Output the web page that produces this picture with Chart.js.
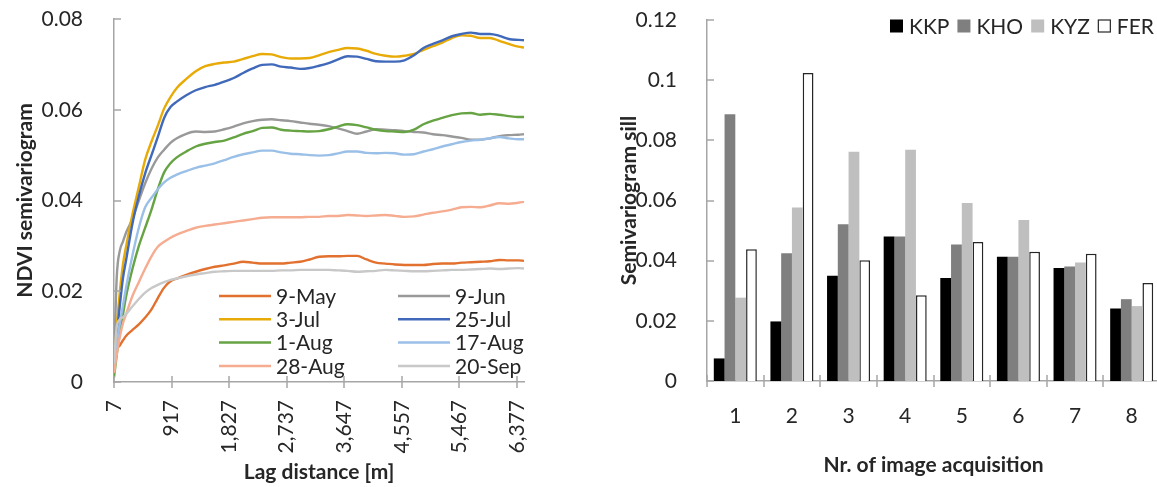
<!DOCTYPE html>
<html>
<head>
<meta charset="utf-8">
<script src="https://cdn.jsdelivr.net/npm/chart.js@4.4.1/dist/chart.umd.min.js"></script>
<style>
  html, body { margin: 0; padding: 0; background: #fff; overflow: hidden; }
  #left { position: absolute; left: 0; top: 0; width: 580px; height: 487px; }
  #right { position: absolute; left: 580px; top: 0; width: 582px; height: 487px; }
</style>
</head>
<body>
<div id="left"><canvas id="lagChart"></canvas></div>
<div id="right"><canvas id="sillChart"></canvas></div>
<script>
// ---- left: semivariograms ----
var lagDistance = [7, 50, 100, 150, 200, 300, 400, 500, 600, 700, 800, 900, 1000, 1150, 1300, 1450, 1600, 1750, 1900, 2050,
  2200, 2350, 2500, 2650, 2800, 2950, 3100, 3250, 3400, 3550, 3700, 3850, 4000, 4150, 4300, 4450, 4600, 4750, 4900, 5050,
  5200, 5350, 5500, 5650, 5800, 5950, 6100, 6250, 6400, 6490];
var lagTicks = [7, 917, 1827, 2737, 3647, 4557, 5467, 6377];

var may9 = [.004, .007, .0081, .0092, .0102, .0115, .0127, .0142, .0160, .0185, .0208, .0222, .0228, .0236, .0243, .0249, .0254, .0257, .0261, .0265,
  .0263, .0261, .0261, .0261, .0263, .0265, .0270, .0276, .0277, .0277, .0278, .0278, .0270, .0263, .0261, .0259, .0258, .0258, .0258, .0260,
  .0261, .0261, .0263, .0264, .0265, .0266, .0269, .0268, .0268, .0267];
var jun9 = [.004, .023, .029, .031, .033, .036, .040, .0438, .0470, .0495, .0512, .0527, .0537, .0547, .0552, .0551, .0552, .0557, .0563, .0570,
  .0575, .0578, .0579, .0577, .0575, .0572, .0569, .0567, .0564, .0559, .0553, .0547, .0552, .0557, .0556, .0555, .0553, .0551, .0550, .0546,
  .0544, .0541, .0538, .0534, .0534, .0537, .0542, .0544, .0545, .0546];
var jul3 = [.003, .012, .020, .026, .030, .037, .043, .049, .053, .0565, .0603, .0628, .0648, .0668, .0685, .0696, .0701, .0704, .0706, .0712,
  .0718, .0723, .0722, .0716, .0713, .0713, .0714, .0720, .0727, .0732, .0736, .0735, .0730, .0723, .0719, .0717, .0719, .0723, .0732, .0740,
  .0748, .0758, .0764, .0763, .0758, .0758, .0752, .0745, .0739, .0737];
var jul25 = [.003, .010, .017, .023, .027, .035, .041, .046, .050, .054, .0582, .0606, .0618, .0632, .0643, .0650, .0655, .0662, .0670, .0681,
  .0691, .0699, .0700, .0695, .0693, .0690, .0692, .0697, .0703, .0711, .0718, .0717, .0712, .0707, .0706, .0706, .0709, .0720, .0736, .0745,
  .0753, .0762, .0767, .0770, .0767, .0767, .0763, .0756, .0754, .0753];
var aug1 = [.001, .006, .011, .015, .019, .025, .030, .034, .038, .0425, .0462, .0482, .0495, .0508, .0519, .0525, .0529, .0532, .0539, .0547,
  .0553, .0560, .0561, .0556, .0554, .0553, .0552, .0553, .0557, .0563, .0568, .0566, .0561, .0556, .0553, .0552, .0551, .0556, .0568, .0576,
  .0582, .0588, .0592, .0593, .0589, .0591, .0589, .0586, .0584, .0584];
var aug17 = [.002, .008, .013, .017, .021, .028, .034, .0385, .0406, .0425, .0440, .0450, .0457, .0465, .0472, .0477, .0482, .0489, .0496, .0502,
  .0506, .0510, .0510, .0506, .0503, .0502, .0500, .0499, .0500, .0504, .0508, .0508, .0505, .0504, .0505, .0504, .0501, .0502, .0508, .0513,
  .0519, .0524, .0529, .0532, .0534, .0537, .0540, .0537, .0535, .0535];
var aug28 = [.002, .006, .010, .013, .015, .019, .022, .025, .0277, .0298, .0309, .0318, .0325, .0333, .0340, .0344, .0347, .0350, .0353, .0356,
  .0359, .0362, .0363, .0363, .0363, .0363, .0364, .0364, .0366, .0366, .0368, .0367, .0366, .0367, .0368, .0366, .0364, .0365, .0369, .0373,
  .0376, .0380, .0385, .0386, .0385, .0389, .0394, .0393, .0395, .0397];
var sep20 = [.004, .0121, .0138, .0143, .0150, .0167, .0183, .0197, .0207, .0214, .0220, .0225, .0228, .0233, .0237, .0240, .0243, .0244, .0245, .0245,
  .0245, .0245, .0245, .0246, .0246, .0247, .0247, .0247, .0247, .0246, .0245, .0243, .0244, .0245, .0247, .0246, .0245, .0244, .0244, .0245,
  .0246, .0247, .0247, .0248, .0249, .0250, .0249, .0250, .0251, .0250];

var dateLabels = ['9-May', '9-Jun', '3-Jul', '25-Jul', '1-Aug', '17-Aug', '28-Aug', '20-Sep'];
var dateSeries = [may9, jun9, jul3, jul25, aug1, aug17, aug28, sep20];
var lineColors = ['#E2702E', '#999999', '#E8AA06', '#4169B9', '#66A343', '#9BC0E8', '#F5AC90', '#C8C8C8'];

// ---- right: sills ----
var acquisitions = ['1', '2', '3', '4', '5', '6', '7', '8'];
var kkp = [0.0075, 0.0198, 0.0350, 0.0480, 0.0342, 0.0413, 0.0376, 0.0241];
var kho = [0.0887, 0.0425, 0.0521, 0.0480, 0.0454, 0.0413, 0.0381, 0.0272];
var kyz = [0.0277, 0.0577, 0.0762, 0.0769, 0.0592, 0.0535, 0.0394, 0.0249];
var fer = [0.0438, 0.1024, 0.0401, 0.0285, 0.0462, 0.0430, 0.0423, 0.0326];
var regions = ['KKP', 'KHO', 'KYZ', 'FER'];
var barColors = ['#000000', '#7f7f7f', '#bfbfbf', '#ffffff'];

var FONT = 'Lato, "Open Sans", sans-serif';
var TXT = '#262626';
var AXIS = '#a6a6a6';
Chart.defaults.font.family = FONT;
Chart.defaults.font.size = 21;
Chart.defaults.color = TXT;

function fmt(v) { return String(+(+v).toFixed(2)); }

// fixed y-axis box: the label padding must not push the plot area down
function fixYBox(w) {
  return function(scale) {
    scale.width = w;
    scale.paddingTop = 0;
    scale.paddingBottom = 0;
  };
}

// small tick marks that cross / sit inside the axes, like the Excel ones
var tickMarks = {
  id: 'tickMarks',
  afterDraw: function(chart) {
    var ctx = chart.ctx, a = chart.chartArea;
    var ys = chart.scales.y, xs = chart.scales.x;
    var xs_px = [];
    if (xs.type === 'category') {
      var half = (xs.getPixelForValue(1) - xs.getPixelForValue(0)) / 2;
      xs.ticks.forEach(function(t, i) { xs_px.push(xs.getPixelForValue(i) - half); });
      xs_px.push(xs.getPixelForValue(xs.ticks.length - 1) + half);
    } else {
      xs.ticks.forEach(function(t) { xs_px.push(xs.getPixelForValue(t.value)); });
    }
    ctx.save();
    ctx.strokeStyle = AXIS;
    ctx.lineWidth = 1.5;
    ctx.beginPath();
    ys.ticks.forEach(function(t) {
      var p = Math.round(ys.getPixelForValue(t.value));
      ctx.moveTo(a.left, p); ctx.lineTo(a.left + 7, p);
    });
    xs_px.forEach(function(p) {
      p = Math.round(p);
      ctx.moveTo(p, a.bottom - 6); ctx.lineTo(p, a.bottom + 6);
    });
    ctx.stroke();
    ctx.restore();
  }
};

var lagLegend = {
  id: 'lagLegend',
  afterDatasetsDraw: function(chart) {
    var ctx = chart.ctx, a = chart.chartArea;
    ctx.save();
    ctx.font = '21px ' + FONT;
    ctx.textBaseline = 'middle';
    chart.data.datasets.forEach(function(ds, i) {
      var col = i % 2, row = Math.floor(i / 2);
      var x0 = a.left + 105 + col * 179;
      var y0 = a.top + 277 + row * 23.3;
      ctx.strokeStyle = ds.borderColor;
      ctx.lineWidth = 2.5;
      ctx.beginPath(); ctx.moveTo(x0, y0); ctx.lineTo(x0 + 52, y0); ctx.stroke();
      ctx.fillStyle = TXT;
      ctx.fillText(ds.label, x0 + 57, y0 + 1);
    });
    ctx.restore();
  }
};

var sillLegend = {
  id: 'sillLegend',
  afterDraw: function(chart) {
    var ctx = chart.ctx;
    ctx.save();
    ctx.font = '21px ' + FONT;
    ctx.textBaseline = 'middle';
    var ds = chart.data.datasets;
    var widths = ds.map(function(d) { return 13 + 6 + ctx.measureText(d.label).width; });
    var gap = 8;
    var total = widths.reduce(function(s, w) { return s + w; }, 0) + gap * (ds.length - 1);
    var x = 574 - total, y = 26;
    ds.forEach(function(d, i) {
      ctx.fillStyle = d.backgroundColor;
      ctx.fillRect(x, y - 6.5, 13, 13);
      if (d.borderWidth) {
        ctx.strokeStyle = d.borderColor; ctx.lineWidth = 1.2;
        ctx.strokeRect(x + 0.5, y - 6, 12, 12);
      }
      ctx.fillStyle = TXT;
      ctx.fillText(d.label, x + 19, y + 1);
      x += widths[i] + gap;
    });
    ctx.restore();
  }
};

new Chart(document.getElementById('lagChart'), {
  type: 'line',
  data: {
    datasets: dateSeries.map(function(s, i) {
      return {
        label: dateLabels[i],
        data: lagDistance.map(function(d, j) { return { x: d, y: s[j] }; }),
        borderColor: lineColors[i],
        backgroundColor: lineColors[i],
        borderWidth: 2.4,
        pointRadius: 0,
        cubicInterpolationMode: 'monotone',
        order: dateSeries.length - i
      };
    })
  },
  options: {
    responsive: true,
    maintainAspectRatio: false,
    animation: false,
    layout: { padding: { top: 19, right: 56, bottom: 0, left: 0 } },
    plugins: { legend: { display: false }, tooltip: { enabled: false } },
    scales: {
      x: {
        type: 'linear',
        min: 7,
        max: 6490,
        afterBuildTicks: function(scale) { scale.ticks = lagTicks.map(function(v) { return { value: v }; }); },
        afterFit: function(scale) { scale.height = 105; },
        grid: { display: false },
        border: { display: true, color: AXIS, width: 1.5 },
        ticks: {
          minRotation: 90, maxRotation: 90, padding: 10, autoSkip: false,
          callback: function(v) { return Number(v).toLocaleString('en-US'); }
        },
        title: { display: true, text: 'Lag distance [m]', font: { size: 21, weight: 'bold' }, padding: { top: 0, bottom: 2 } }
      },
      y: {
        min: 0,
        max: 0.08,
        afterFit: fixYBox(114),
        grid: { display: false },
        border: { display: true, color: AXIS, width: 1.5 },
        ticks: { stepSize: 0.02, padding: 23, callback: fmt },
        title: { display: true, text: 'NDVI semivariogram', font: { size: 21, weight: 'bold' }, padding: { top: 13, bottom: 0 } }
      }
    }
  },
  plugins: [tickMarks, lagLegend]
});

new Chart(document.getElementById('sillChart'), {
  type: 'bar',
  data: {
    labels: acquisitions,
    datasets: [kkp, kho, kyz, fer].map(function(s, i) {
      return {
        label: regions[i],
        data: s,
        backgroundColor: barColors[i],
        borderColor: i === 3 ? '#262626' : barColors[i],
        borderWidth: i === 3 ? 1.5 : 0,
        barPercentage: 1,
        categoryPercentage: 0.76
      };
    })
  },
  options: {
    responsive: true,
    maintainAspectRatio: false,
    animation: false,
    layout: { padding: { top: 20, right: 2, bottom: 0, left: 0 } },
    plugins: { legend: { display: false }, tooltip: { enabled: false } },
    scales: {
      x: {
        afterFit: function(scale) { scale.height = 106; },
        grid: { display: false },
        border: { display: true, color: AXIS, width: 1.5 },
        ticks: { padding: 15 },
        title: { display: true, text: 'Nr. of image acquisition', font: { size: 21, weight: 'bold' }, padding: { top: 0, bottom: 9 } }
      },
      y: {
        min: 0,
        max: 0.12,
        afterFit: fixYBox(127),
        grid: { display: false },
        border: { display: true, color: AXIS, width: 1.5 },
        ticks: { stepSize: 0.02, padding: 22, callback: fmt },
        title: { display: true, text: 'Semivariogram sill', font: { size: 21, weight: 'bold' }, padding: { top: 37, bottom: 0 } }
      }
    }
  },
  plugins: [tickMarks, sillLegend]
});
</script>
</body>
</html>
